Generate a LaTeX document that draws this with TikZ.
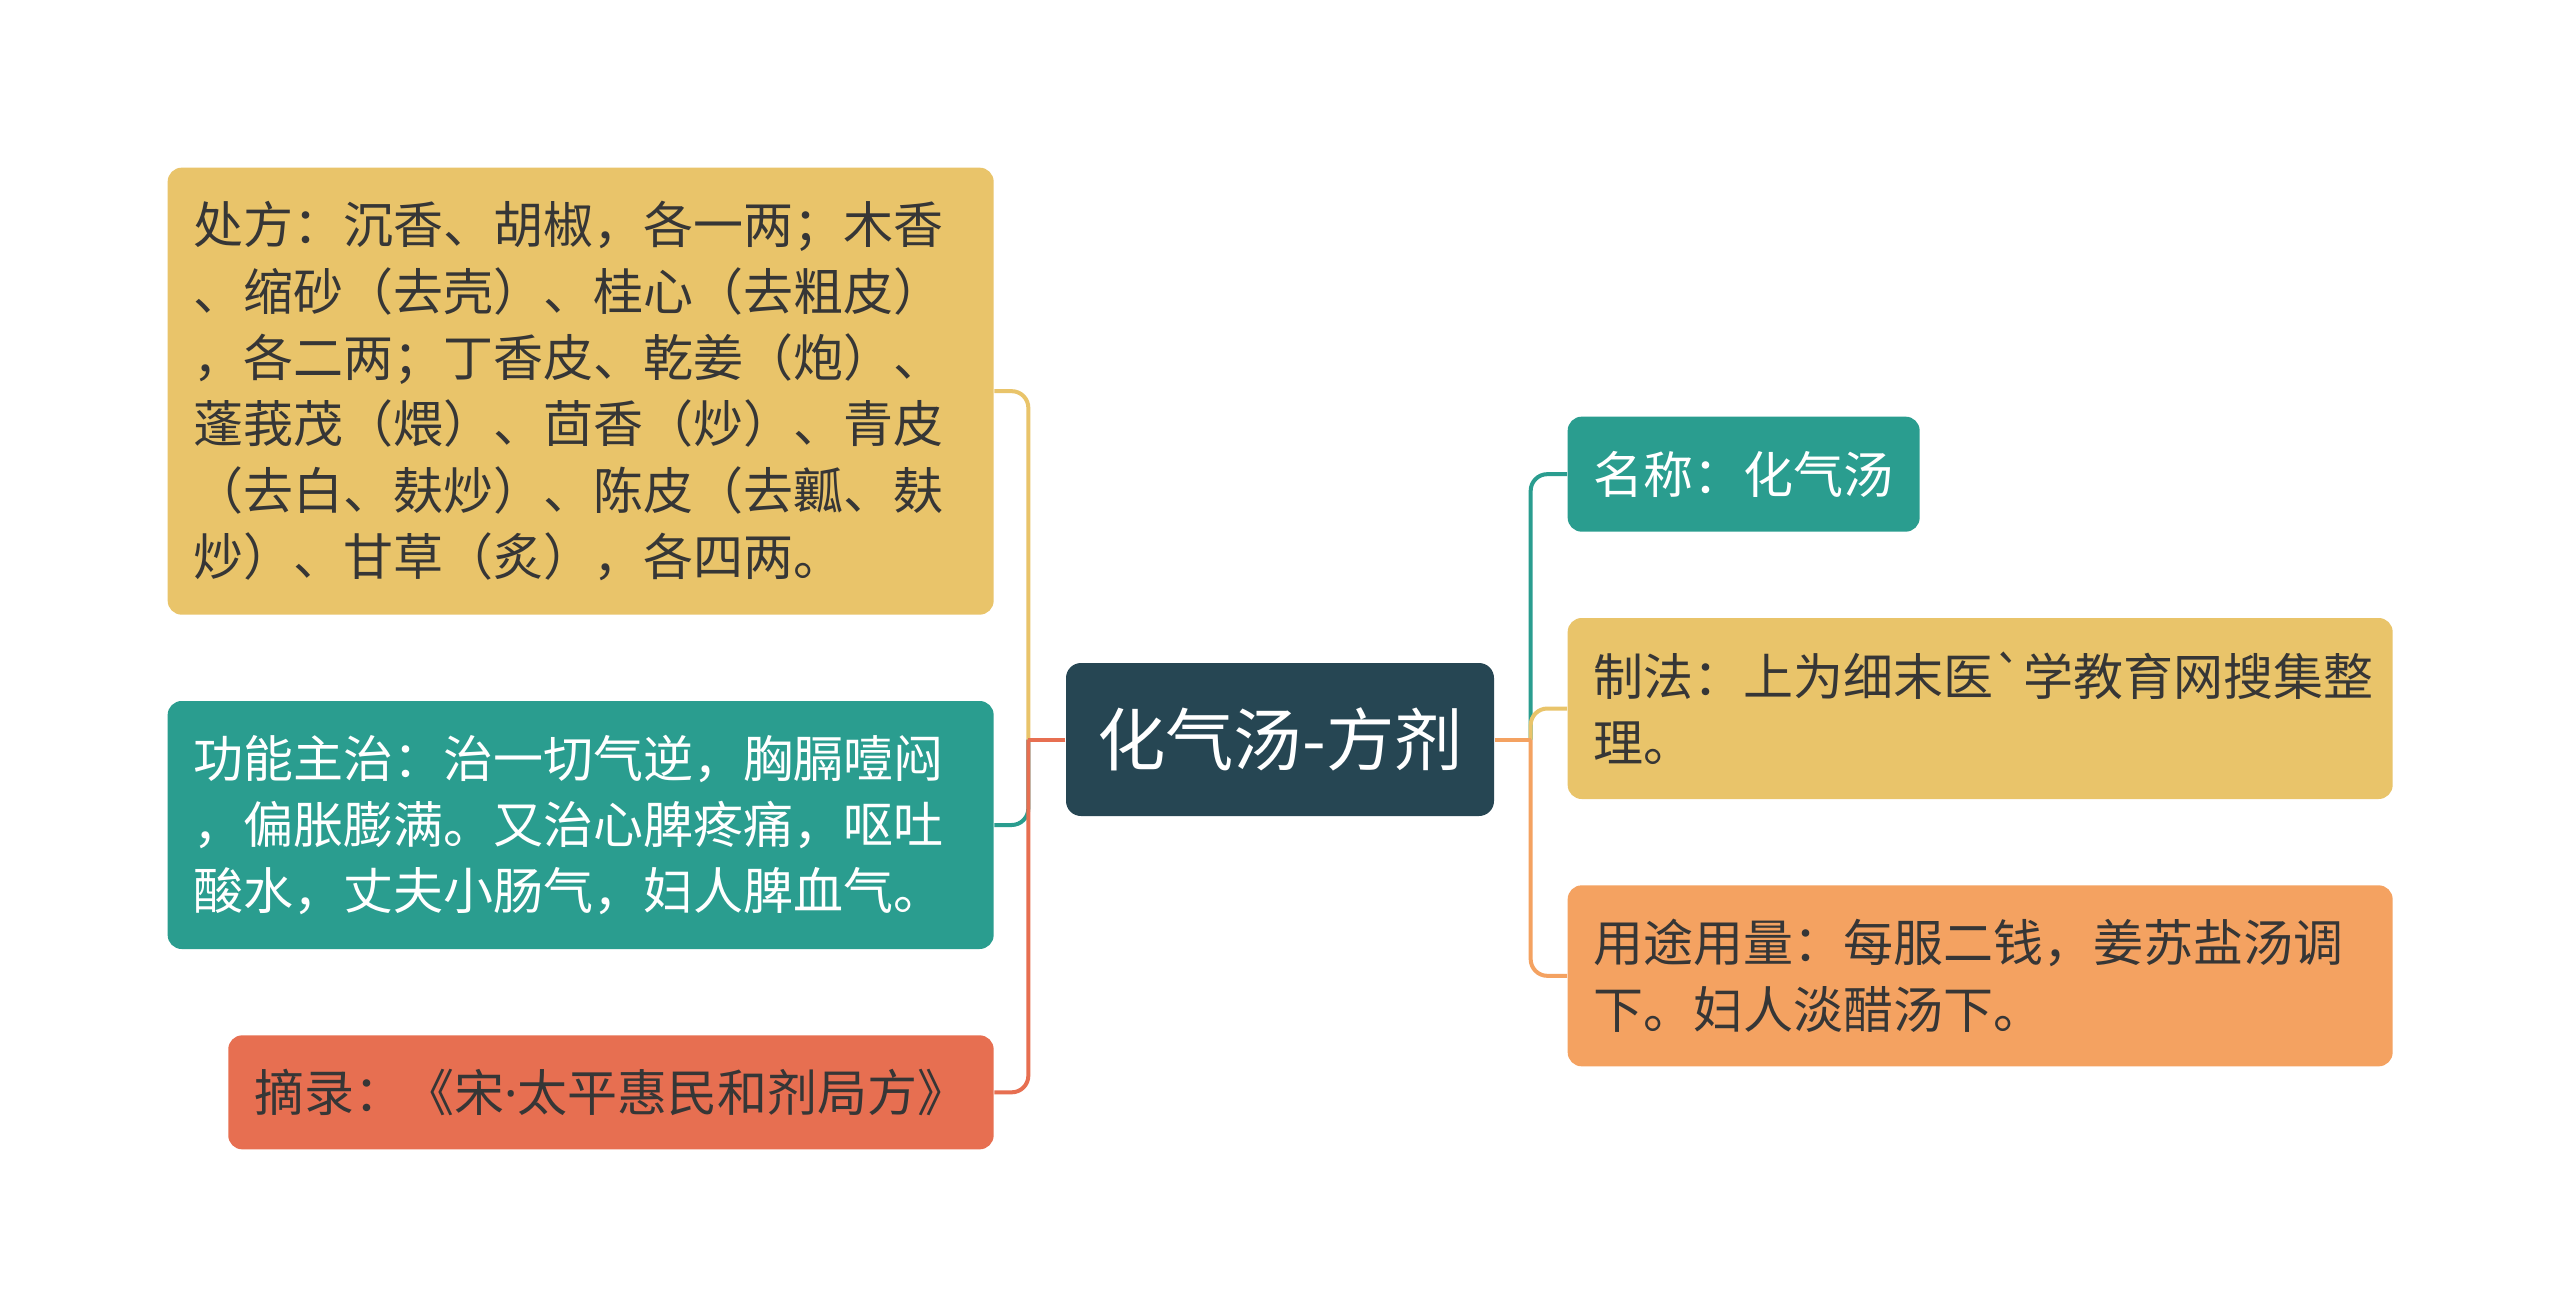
\documentclass[tikz,border=0pt]{standalone}
\usepackage{fontspec}
\newfontfamily\cjk{Noto Sans CJK SC}[Ligatures=TeXOff]
\newfontfamily\latin{Noto Sans}
\usepackage{xcolor}
\usepackage{tikz}
\usetikzlibrary{%
  positioning}
\definecolor{hubblue}{HTML}{264653}
\definecolor{mintteal}{HTML}{2A9D8F}
\definecolor{sunyel}{HTML}{E9C46A}
\definecolor{sandorg}{HTML}{F4A261}
\definecolor{coralred}{HTML}{E76F51}
\definecolor{inkgray}{HTML}{363636}
\tikzset{
  %% Central topic
  hubbox/.style={
    rectangle, rounded corners=4.5pt,
    fill=hubblue, text=white,
    minimum width=128.4pt, minimum height=45.9pt,
    font=\cjk\fontsize{20.5pt}{24pt}\selectfont},
  %% Branch boxes
  leafbox/.style={
    rectangle, rounded corners=4.2pt,
    align=left, inner xsep=7.8pt, inner ysep=0pt,
    text=inkgray, font=\cjk\fontsize{15pt}{19.9pt}\selectfont},
  yelbox/.style={leafbox, fill=sunyel},
  tealbox/.style={leafbox, fill=mintteal, text=white},
  redbox/.style={leafbox, fill=coralred},
  orgbox/.style={leafbox, fill=sandorg},
  %% Connectors
  link/.style={line width=1.2pt, rounded corners=5pt},
}
\begin{document}
\begin{tikzpicture}[x=0.3pt, y=-0.3pt, node distance=25.5pt]
  \fill[white] (0,0) rectangle (2560,1315);
  \useasboundingbox (0,0) rectangle (2560,1315);

  \node[hubbox] (hub) at (1280,739.5) {化气汤-方剂};

  %% Left branches
  \node[yelbox, text width=232.2pt, minimum height=134.1pt, anchor=north west] (chufang)
        at (167,167)
        {处方：沉香、胡椒，各一两；木香\\
         、缩砂（去壳）、桂心（去粗皮）\\
         ，各二两；丁香皮、乾姜（炮）、\\
         蓬莪茂（煨）、茴香（炒）、青皮\\
         （去白、麸炒）、陈皮（去瓤、麸\\
         炒）、甘草（炙），各四两。};
  \node[tealbox, text width=232.2pt, minimum height=74.4pt, below=of chufang] (gongneng)
        {功能主治：治一切气逆，胸膈噎闷\\
         ，偏胀膨满。又治心脾疼痛，呕吐\\
         酸水，丈夫小肠气，妇人脾血气。};
  \node[redbox, minimum height=34.2pt, below=of gongneng.south east, anchor=north east] (zhailu)
        {摘录：《宋{\latin ·}太平惠民和剂局方》};

  %% Right branches
  \node[tealbox, minimum height=34.5pt, anchor=north west] (mingcheng)
        at (1567,416) {名称：化气汤};
  \node[yelbox, text width=231.9pt, minimum height=54.3pt,
        below=of mingcheng.south west, anchor=north west] (zhifa)
        {制法：上为细末医`学教育网搜集整\\
         理。};
  \node[orgbox, text width=231.9pt, minimum height=54.3pt, below=of zhifa] (yongtu)
        {用途用量：每服二钱，姜苏盐汤调\\
         下。妇人淡醋汤下。};

  \coordinate (ljoin) at ([xshift=-11.1pt]hub.west);
  \coordinate (rjoin) at ([xshift=10.8pt]hub.east);

  \draw[link, sunyel] (ljoin) |- (chufang.east);
  \draw[link, mintteal] (ljoin) |- (gongneng.east);
  \draw[link, coralred] (ljoin) |- (zhailu.east);
  \draw[link, coralred] (hub.west) -- (ljoin);

  \draw[link, mintteal] (rjoin) |- (mingcheng.west);
  \draw[link, sunyel] (rjoin) |- (zhifa.west);
  \draw[link, sandorg] (rjoin) |- (yongtu.west);
  \draw[link, sandorg] (hub.east) -- (rjoin);
\end{tikzpicture}
\end{document}
